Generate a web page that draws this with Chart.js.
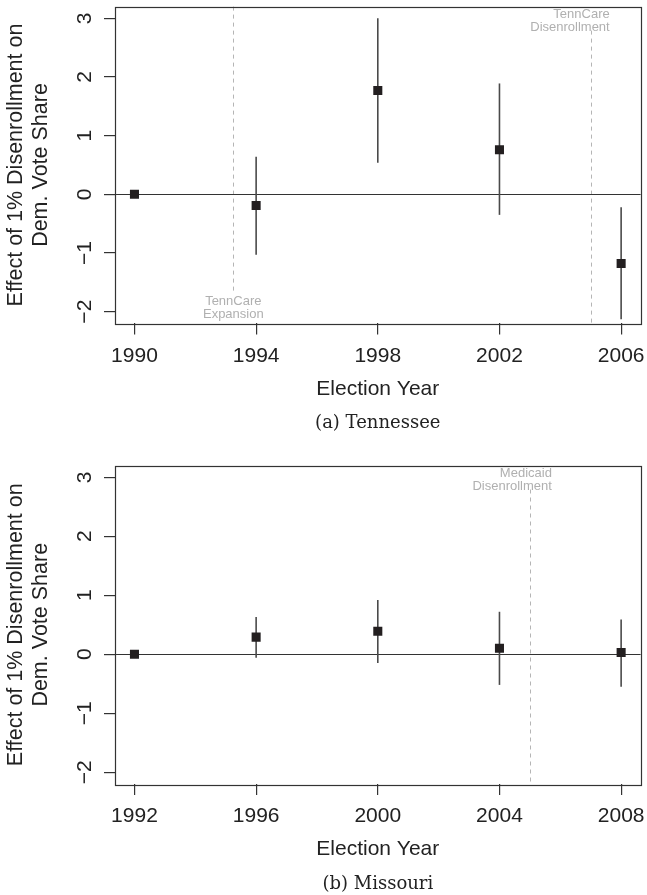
<!DOCTYPE html>
<html lang="en">

<head>
    <meta charset="UTF-8">
    <meta name="viewport" content="width=device-width, initial-scale=1.0">
    <title>Effect of Disenrollment - Tennessee / Missouri</title>
    <script src="https://cdn.jsdelivr.net/npm/chart.js"></script>
    <style>
        body { margin: 0; background: #fff; width: 647px; height: 895px; overflow: hidden; position: relative; }
        .painel { position: absolute; left: 0; width: 647px; }
    </style>
</head>

<body>
    <div class="painel" style="top:0; height:440px;"><canvas id="graficoTN"></canvas></div>
    <div class="painel" style="top:440px; height:455px;"><canvas id="graficoMO"></canvas></div>

    <script>
        // Tennessee
        const tnAnos = [1990, 1994, 1998, 2002, 2006];
        const tnEfeito = [0, -0.19, 1.77, 0.76, -1.18];
        const tnInferior = [null, -1.03, 0.54, -0.35, -2.13];
        const tnSuperior = [null, 0.64, 3.00, 1.89, -0.22];
        const tnEventos = [1993.25, 2005];
        const tnRotulosEventos = [['TennCare', 'Expansion'], ['TennCare', 'Disenrollment']];

        // Missouri
        const moAnos = [1992, 1996, 2000, 2004, 2008];
        const moEfeito = [0, 0.29, 0.39, 0.10, 0.03];
        const moInferior = [null, -0.06, -0.15, -0.52, -0.55];
        const moSuperior = [null, 0.63, 0.92, 0.72, 0.59];
        const moEventos = [2005];
        const moRotulosEventos = [['Medicaid', 'Disenrollment']];

        const yTicks = [-2, -1, 0, 1, 2, 3];
        const tituloY = ['Effect of 1% Disenrollment on', 'Dem. Vote Share'];
        const tituloX = 'Election Year';

        const fonte = "'Liberation Sans', Arial, Helvetica, sans-serif";
        const corTexto = '#222';

        function criarGrafico(canvasId, d) {
            // desenha linhas de evento, linha do zero, barras de erro, caixa e rótulos
            const desenhos = {
                id: 'desenhos_' + canvasId,
                beforeDatasetsDraw(chart) {
                    const { ctx, chartArea: a, scales: { x, y } } = chart;
                    ctx.save();

                    ctx.strokeStyle = '#b5b5b5';
                    ctx.lineWidth = 1;
                    ctx.setLineDash([4, 4]);
                    d.eventos.forEach((ano, i) => {
                        const px = Math.round(x.getPixelForValue(ano)) + 0.5;
                        const embaixo = d.posicaoRotulos[i] === 'bottom';
                        ctx.beginPath();
                        ctx.moveTo(px, embaixo ? a.top : a.top + 24);
                        ctx.lineTo(px, embaixo ? a.bottom - 30 : a.bottom);
                        ctx.stroke();
                    });
                    ctx.setLineDash([]);

                    const zero = Math.round(y.getPixelForValue(0)) + 0.5;
                    ctx.strokeStyle = '#333';
                    ctx.lineWidth = 1.2;
                    ctx.beginPath();
                    ctx.moveTo(a.left, zero);
                    ctx.lineTo(a.right, zero);
                    ctx.stroke();

                    ctx.strokeStyle = '#4a4a4a';
                    ctx.lineWidth = 1.6;
                    d.anos.forEach((ano, i) => {
                        if (d.inferior[i] === null) return;
                        const px = x.getPixelForValue(ano);
                        ctx.beginPath();
                        ctx.moveTo(px, y.getPixelForValue(d.inferior[i]));
                        ctx.lineTo(px, y.getPixelForValue(d.superior[i]));
                        ctx.stroke();
                    });
                    ctx.restore();
                },
                afterDraw(chart) {
                    const { ctx, chartArea: a, scales: { y } } = chart;
                    ctx.save();

                    // caixa
                    ctx.strokeStyle = '#333';
                    ctx.lineWidth = 1.2;
                    ctx.strokeRect(Math.round(a.left) + 0.5, Math.round(a.top) + 0.5,
                        Math.round(a.right - a.left), Math.round(a.bottom - a.top));

                    // rótulos do eixo y, girados como no R
                    ctx.fillStyle = corTexto;
                    ctx.font = '21px ' + fonte;
                    ctx.textAlign = 'center';
                    ctx.textBaseline = 'middle';
                    yTicks.forEach(v => {
                        ctx.save();
                        ctx.translate(a.left - 30, y.getPixelForValue(v));
                        ctx.rotate(-Math.PI / 2);
                        ctx.fillText(v < 0 ? '\u2212' + Math.abs(v) : String(v), 0, 0);
                        ctx.restore();
                    });

                    // rótulos dos eventos
                    ctx.fillStyle = '#b0b0b0';
                    ctx.font = '13px ' + fonte;
                    d.eventos.forEach((ano, i) => {
                        const px = chart.scales.x.getPixelForValue(ano);
                        const linhas = d.rotulosEventos[i];
                        if (d.posicaoRotulos[i] === 'bottom') {
                            ctx.textAlign = 'center';
                            ctx.fillText(linhas[0], px, a.bottom - 21.5);
                            ctx.fillText(linhas[1], px, a.bottom - 8.5);
                        } else {
                            ctx.textAlign = 'right';
                            ctx.fillText(linhas[0], px + d.deslocRotulo, a.top + 7.6);
                            ctx.fillText(linhas[1], px + d.deslocRotulo, a.top + 21);
                        }
                    });

                    // legenda da figura
                    ctx.fillStyle = corTexto;
                    ctx.font = "18px 'DejaVu Serif', serif";
                    ctx.textAlign = 'center';
                    ctx.fillText(d.legenda, (a.left + a.right) / 2, a.bottom + 100);
                    ctx.restore();
                }
            };

            const marcas = { display: true, drawOnChartArea: false, drawTicks: true, tickLength: 11, color: '#333', lineWidth: 1.2 };

            // zera as margens que o Chart.js reserva para os rótulos das pontas
            function semMargens(s) {
                s.paddingLeft = 0;
                s.paddingRight = 0;
                s.paddingTop = 0;
                s.paddingBottom = 0;
            }

            const config = {
                type: 'scatter',
                data: {
                    datasets: [{
                        data: d.anos.map((ano, i) => ({ x: ano, y: d.efeito[i] })),
                        pointStyle: 'rect',
                        pointRadius: 6.4,
                        pointHoverRadius: 6.4,
                        backgroundColor: '#231f20',
                        borderColor: '#231f20',
                        borderWidth: 0
                    }]
                },
                options: {
                    responsive: true,
                    maintainAspectRatio: false,
                    animation: false,
                    events: [],
                    layout: { padding: { top: d.topo, right: 4.3, left: 0, bottom: d.altura - d.base - 100 } },
                    plugins: { legend: { display: false }, tooltip: { enabled: false } },
                    scales: {
                        x: {
                            type: 'linear',
                            min: d.anos[0] - 0.64,
                            max: d.anos[d.anos.length - 1] + 0.64,
                            afterBuildTicks: s => { s.ticks = d.anos.map(v => ({ value: v })); },
                            afterFit: s => { s.height = 100; semMargens(s); },
                            ticks: {
                                autoSkip: false, maxRotation: 0, padding: 9,
                                color: corTexto, font: { family: fonte, size: 21 },
                                callback: v => String(v)
                            },
                            grid: marcas,
                            border: { display: false },
                            title: {
                                display: true, text: tituloX, color: corTexto,
                                font: { family: fonte, size: 21 },
                                padding: { top: 0, bottom: 22 }
                            }
                        },
                        y: {
                            min: -2.2,
                            max: 3.2,
                            afterBuildTicks: s => { s.ticks = yTicks.map(v => ({ value: v })); },
                            afterFit: s => { s.width = 115; semMargens(s); },
                            ticks: { display: false },
                            grid: marcas,
                            border: { display: false },
                            title: {
                                display: true, text: tituloY, color: corTexto,
                                font: { family: fonte, size: 21.5, lineHeight: 25 / 21.5 },
                                padding: { top: 4, bottom: 0 }
                            }
                        }
                    }
                },
                plugins: [desenhos]
            };

            new Chart(document.getElementById(canvasId), config);
        }

        criarGrafico('graficoTN', {
            anos: tnAnos, efeito: tnEfeito, inferior: tnInferior, superior: tnSuperior,
            eventos: tnEventos, rotulosEventos: tnRotulosEventos,
            posicaoRotulos: ['bottom', 'top'], deslocRotulo: 19,
            legenda: '(a) Tennessee', topo: 6.6, base: 323.4, altura: 440
        });

        criarGrafico('graficoMO', {
            anos: moAnos, efeito: moEfeito, inferior: moInferior, superior: moSuperior,
            eventos: moEventos, rotulosEventos: moRotulosEventos,
            posicaoRotulos: ['top'], deslocRotulo: 22,
            legenda: '(b) Missouri', topo: 25.5, base: 344, altura: 455
        });
    </script>
</body>

</html>
